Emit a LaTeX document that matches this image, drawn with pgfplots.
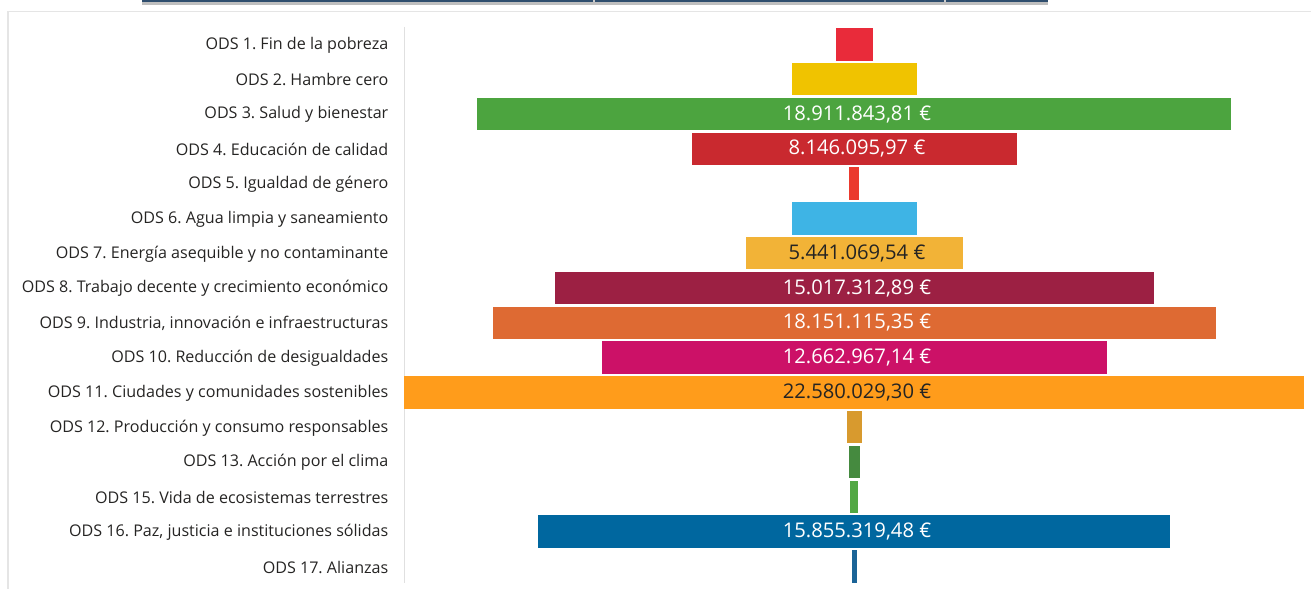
\documentclass[border=0pt]{standalone}
\usepackage{fontspec}
\setmainfont{Open Sans}
\usepackage{pgfplots}
\usepackage{pgfplotstable}
\pgfplotsset{compat=1.18}
\frenchspacing

\definecolor{c0}{HTML}{E92B3A}
\definecolor{c1}{HTML}{F0C300}
\definecolor{c2}{HTML}{4CA43F}
\definecolor{c3}{HTML}{C9292F}
\definecolor{c4}{HTML}{EB3A2E}
\definecolor{c5}{HTML}{3EB4E5}
\definecolor{c6}{HTML}{F2B337}
\definecolor{c7}{HTML}{9C2043}
\definecolor{c8}{HTML}{DE6A33}
\definecolor{c9}{HTML}{CC1167}
\definecolor{c10}{HTML}{FF9C1B}
\definecolor{c11}{HTML}{D89A2E}
\definecolor{c12}{HTML}{458A3F}
\definecolor{c13}{HTML}{52A844}
\definecolor{c14}{HTML}{00679F}
\definecolor{c15}{HTML}{1B6497}
\definecolor{txtdark}{HTML}{252423}
\definecolor{topbar}{HTML}{2F4E6E}
\colorlet{t0}{white}\colorlet{t1}{white}\colorlet{t2}{white}\colorlet{t3}{white}
\colorlet{t4}{white}\colorlet{t5}{white}\colorlet{t6}{txtdark}\colorlet{t7}{white}
\colorlet{t8}{white}\colorlet{t9}{white}\colorlet{t10}{txtdark}\colorlet{t11}{white}
\colorlet{t12}{white}\colorlet{t13}{white}\colorlet{t14}{white}\colorlet{t15}{white}

\pgfplotstableread[col sep=semicolon]{
pos;value;lab
0;900000;{}
1;3130000;{}
2;18911843.81;{18.911.843,81 €}
3;8146095.97;{8.146.095,97 €}
4;230000;{}
5;3130000;{}
6;5441069.54;{5.441.069,54 €}
7;15017312.89;{15.017.312,89 €}
8;18151115.35;{18.151.115,35 €}
9;12662967.14;{12.662.967,14 €}
10;22580029.30;{22.580.029,30 €}
11;350000;{}
12;240000;{}
13;170000;{}
14;15855319.48;{15.855.319,48 €}
15;85000;{}
}\data

\begin{document}
\begin{tikzpicture}
\useasboundingbox (0,0) rectangle (1311bp,589bp);
% window decoration
\fill[black!25] (142bp,589bp) rectangle (1048bp,584bp);
\fill[topbar] (142bp,589bp) rectangle (1048bp,586.5bp);
\fill[black!20] (593bp,589bp) rectangle (595bp,586.5bp);
\fill[black!20] (944bp,589bp) rectangle (946bp,586.5bp);
\draw[black!10, line width=1.8bp] (1311bp,577.5bp) -- (8bp,577.5bp) -- (8bp,0);
\begin{axis}[
  at={(404.5bp,5.6bp)}, anchor=south west,
  scale only axis, width=899bp, height=556.8bp,
  xmin=-11.29001465, xmax=11.29001465,
  ymin=-0.5, ymax=15.5, y dir=reverse,
  axis x line=none, axis y line*=left,
  y axis line style={draw=black!12, line width=1.5bp, -},
  ytick={0,...,15},
  yticklabels={{ODS 1. Fin de la pobreza},{ODS 2. Hambre cero},{ODS 3. Salud y bienestar},{ODS 4. Educación de calidad},{ODS 5. Igualdad de género},{ODS 6. Agua limpia y saneamiento},{ODS 7. Energía asequible y no contaminante},{ODS 8. Trabajo decente y crecimiento económico},{ODS 9. Industria, innovación e infraestructuras},{ODS 10. Reducción de desigualdades},{ODS 11. Ciudades y comunidades sostenibles},{ODS 12. Producción y consumo responsables},{ODS 13. Acción por el clima},{ODS 15. Vida de ecosistemas terrestres},{ODS 16. Paz, justicia e instituciones sólidas},{ODS 17. Alianzas}},
  major tick length=0pt,
  yticklabel style={inner sep=0pt, xshift=-16bp, yshift=-1bp, font=\fontsize{16.1bp}{19bp}\selectfont, text=txtdark},
  clip=false,
]
\pgfplotsinvokeforeach{0,...,15}{
  \addplot[xbar, bar shift=0pt, bar width=31.5bp, fill=c#1, draw=c#1, line width=0.3bp]
    table[x expr=\thisrow{value}/2e6, y=pos, restrict expr to domain={\coordindex}{#1:#1}]{\data};
  \addplot[xbar, bar shift=0pt, bar width=31.5bp, fill=c#1, draw=c#1, line width=0.3bp]
    table[x expr=-\thisrow{value}/2e6, y=pos, restrict expr to domain={\coordindex}{#1:#1}]{\data};
  \addplot[only marks, mark=none, point meta=explicit symbolic,
    nodes near coords, nodes near coords align=center,
    nodes near coords style={anchor=center, text=t#1, inner sep=0pt, xshift=3bp, yshift=-0.5bp, font=\fontsize{20.2bp}{24bp}\selectfont}]
    table[x expr=0, y=pos, meta=lab, restrict expr to domain={\coordindex}{#1:#1}]{\data};
}
\end{axis}
\end{tikzpicture}
\end{document}
